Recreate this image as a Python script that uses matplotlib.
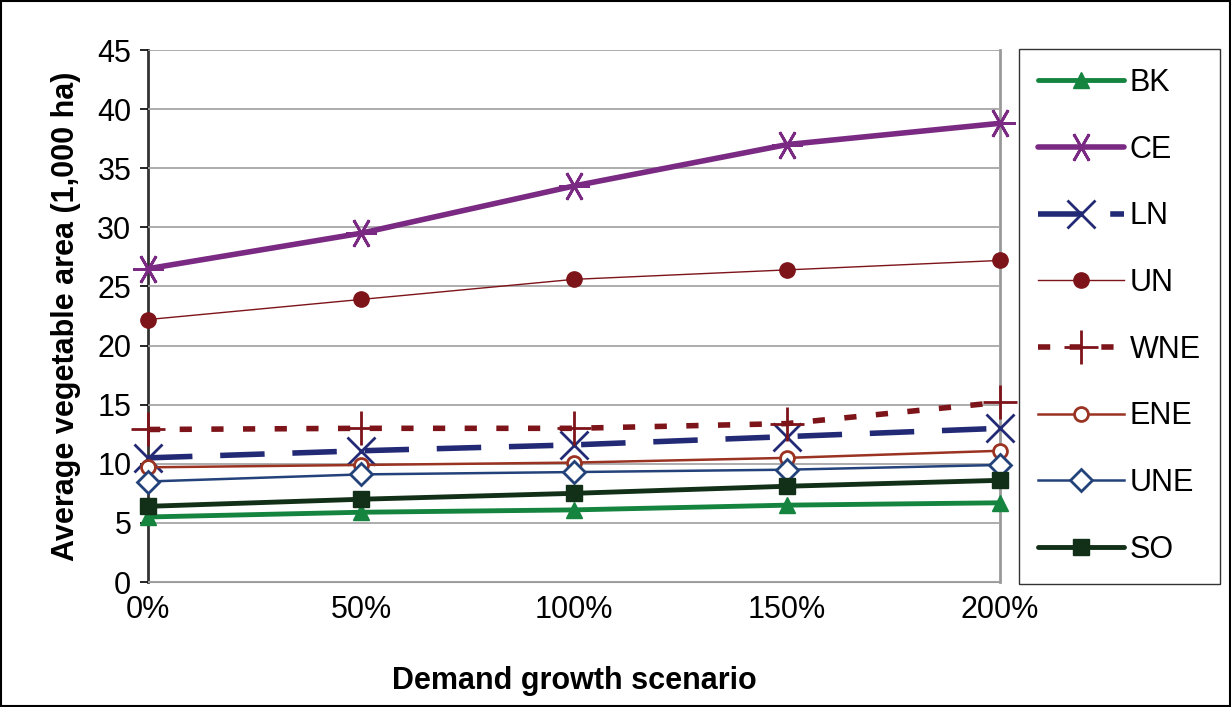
import numpy as np
import matplotlib.pyplot as plt

plt.rcParams['font.family'] = ['Liberation Sans', 'DejaVu Sans']

scenarios = ['0%', '50%', '100%', '150%', '200%']
bk = [5.5, 5.9, 6.1, 6.5, 6.7]
ce = [26.5, 29.5, 33.5, 37.0, 38.8]
ln = [10.5, 11.1, 11.6, 12.3, 13.0]
un = [22.2, 23.9, 25.6, 26.4, 27.2]
wne = [12.9, 13.0, 13.0, 13.4, 15.2]
ene = [9.7, 9.9, 10.1, 10.5, 11.1]
une = [8.5, 9.1, 9.3, 9.5, 9.9]
so = [6.4, 7.0, 7.5, 8.1, 8.6]

fig = plt.figure(figsize=(12.31, 7.07), dpi=100)
ax = fig.add_axes([148/1231, 1-582/707, (1000-148)/1231, (582-50)/707])
x = np.arange(len(scenarios))

kw = dict(clip_on=False)
ax.plot(x, bk, color='#14843f', lw=3.5, marker='^', ms=12, label='BK', solid_capstyle='round', **kw)
ax.plot(x, ce, color='#7a2a82', lw=4, marker=(6, 2, 90), ms=22, mew=2, label='CE', solid_capstyle='round', **kw)
ax.plot(x, ln, color='#232a75', lw=4, ls=(0, (8, 5)), marker='x', ms=20, mew=2, label='LN', **kw)
ax.plot(x, un, color='#7d1419', lw=1, marker='o', ms=11, label='UN', **kw)
ax.plot(x, wne, color='#7d1419', lw=4, ls=(0, (2.2, 3.5)), marker='+', ms=24, mew=2, label='WNE', **kw)
ax.plot(x, ene, color='#9a3322', lw=1.8, marker='o', ms=10, mfc='white', mew=2, label='ENE', **kw)
ax.plot(x, une, color='#23427a', lw=1.8, marker='D', ms=11, mfc='white', mew=2, label='UNE', **kw)
ax.plot(x, so, color='#123018', lw=3.5, marker='s', ms=11, label='SO', solid_capstyle='round', **kw)

ax.set_xlim(0, 4)
ax.set_ylim(0, 45)
ax.set_yticks(range(0, 46, 5))
ax.set_xticks(x)
ax.set_xticklabels(scenarios)
ax.yaxis.grid(True, color='#a6a6a6', lw=1.3)
ax.set_axisbelow(True)
ax.tick_params(axis='y', length=6, width=1.2, labelsize=22, pad=6)
ax.tick_params(axis='x', length=0, labelsize=22, pad=9)
ax.spines['left'].set_color('#333333')
ax.spines['left'].set_linewidth(2)
ax.spines['bottom'].set_color('#999999')
ax.spines['bottom'].set_linewidth(1.5)
ax.spines['right'].set_color('#999999')
ax.spines['right'].set_linewidth(2)
ax.spines['top'].set_visible(False)
for s in ax.spines.values():
    s.set_zorder(0)

ax.set_ylabel('Average vegetable area (1,000 ha)', fontsize=22, fontweight='bold', labelpad=12)
ax.set_xlabel('Demand growth scenario', fontsize=22, fontweight='bold', labelpad=30)

leg = fig.legend(loc='upper left', bbox_to_anchor=(1019/1231, 1-49/707), frameon=True,
                 fontsize=22, handlelength=2.8, labelspacing=1.2, borderpad=0.62,
                 handletextpad=0.2, borderaxespad=0, fancybox=False, edgecolor='black')
leg.get_frame().set_linewidth(1)

fig.patches.append(plt.Rectangle((0.001, 0.001), 0.998, 0.997, transform=fig.transFigure,
                                 fill=False, edgecolor='black', lw=1.5))

fig.savefig('out.png', dpi=100)
